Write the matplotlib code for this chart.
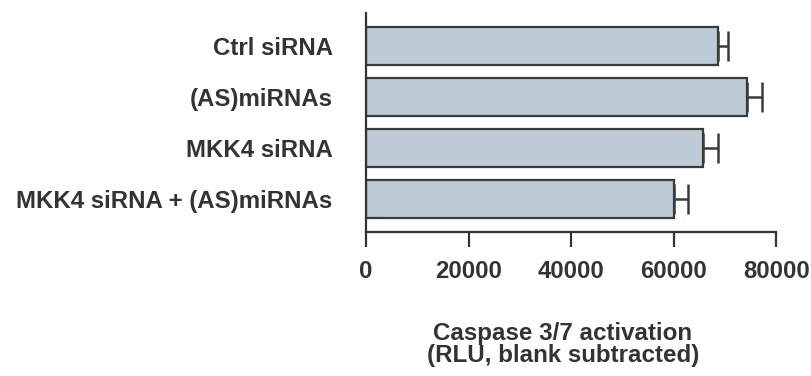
import matplotlib
matplotlib.use("Agg")
import matplotlib.pyplot as plt

plt.rcParams['font.family'] = ['Liberation Sans', 'DejaVu Sans']
plt.rcParams['font.weight'] = 'bold'

# values
groups = ['Ctrl siRNA', '(AS)miRNAs', 'MKK4 siRNA', 'MKK4 siRNA + (AS)miRNAs']
caspase = [68600, 74300, 65800, 60000]
caspase_err = [2000, 2900, 2850, 2850]
xticks = [0, 20000, 40000, 60000, 80000]

ink = '#333333'

fig = plt.figure(figsize=(8.11, 3.76), dpi=100)
ax = fig.add_axes([0.4513, 0.3822, 0.9572 - 0.4513, 0.9662 - 0.3822])

pos = list(range(len(groups)))
ax.barh(pos, caspase, height=0.74, color='#bccbd5', edgecolor='#3a3a3a',
        linewidth=1.6, zorder=2)
ax.errorbar(caspase, pos, xerr=[[0] * len(caspase), caspase_err], fmt='none',
            ecolor='#3a3a3a', elinewidth=1.8, capsize=10.8, capthick=1.8, zorder=3)

ax.set_xlim(0, 80000)
ax.set_ylim(3.65, -0.66)
ax.set_xticks(xticks)
ax.set_xticklabels([str(t) for t in xticks])
ax.set_yticks(pos)
ax.set_yticklabels(groups)

for side in ['top', 'right']:
    ax.spines[side].set_visible(False)
for side in ['left', 'bottom']:
    ax.spines[side].set_color(ink)
    ax.spines[side].set_linewidth(1.6)

ax.tick_params(axis='x', direction='out', length=10.8, width=1.6, color=ink,
               pad=9.5, labelsize=17.2, labelcolor=ink)
ax.tick_params(axis='y', length=0, pad=24, labelsize=17.3, labelcolor=ink)

# label sits a bit left of the axis centre in the original
ax.set_xlabel('Caspase 3/7 activation\n(RLU, blank subtracted)', fontsize=17.4,
              fontweight='bold', color=ink, labelpad=28, linespacing=0.95, x=0.48)

fig.savefig('out.png', dpi=100)
